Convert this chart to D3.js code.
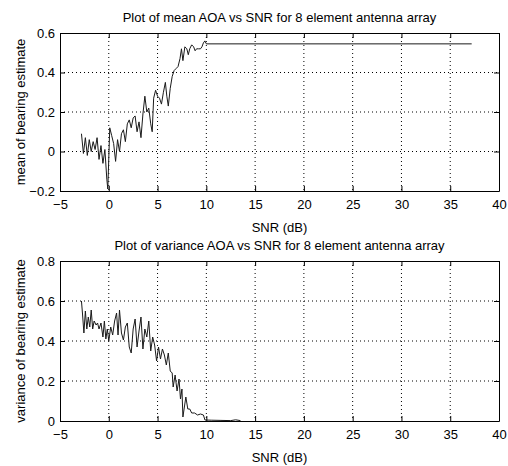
<!DOCTYPE html>
<html>
<head>
<meta charset="UTF-8">
<script src="https://d3js.org/d3.v7.min.js"></script>
<style>
body { margin: 0; background: #fff; }
text { font-family: "Liberation Sans", Arial, sans-serif; fill: #000; }
.grid line { stroke: #000; stroke-width: 1; stroke-dasharray: 1,3; }
.curve { fill: none; stroke: #1a1a1a; stroke-width: 1; }
</style>
</head>
<body>
<svg width="508" height="466"></svg>
<script>
// mean AOA vs SNR (top)
var meanSnr = [-2.8, -2.6, -2.4, -2.2, -2.0, -1.8, -1.6, -1.4, -1.2, -1.0, -0.8, -0.6, -0.4, -0.2, -0.1,
    0.1, 0.3, 0.5, 0.7, 0.9, 1.1, 1.3, 1.5, 1.7, 1.9, 2.1, 2.3, 2.5, 2.7, 2.9, 3.1, 3.3, 3.5, 3.7, 3.9,
    4.1, 4.3, 4.45, 4.6, 4.8, 5.0, 5.2, 5.4, 5.6, 5.8, 5.95, 6.1, 6.3, 6.5, 6.7, 6.9, 7.1, 7.3, 7.45,
    7.6, 7.8, 8.0, 8.15, 8.3, 8.5, 8.7, 8.85, 9.0, 9.2, 9.4, 9.55, 9.7, 9.85, 10.0, 37.2];
var meanVal = [0.09, -0.01, 0.07, -0.02, 0.06, 0.00, 0.05, 0.01, 0.07, -0.04, 0.03, -0.06, 0.01, -0.14, -0.19,
    0.12, 0.08, 0.04, -0.05, 0.06, 0.00, 0.09, 0.11, 0.05, 0.14, 0.16, 0.12, 0.17, 0.18, 0.10, 0.15, 0.07, 0.19, 0.28, 0.20,
    0.22, 0.14, 0.10, 0.27, 0.31, 0.28, 0.27, 0.24, 0.30, 0.35, 0.28, 0.23, 0.32, 0.38, 0.41, 0.42, 0.43, 0.47, 0.52,
    0.46, 0.53, 0.52, 0.49, 0.52, 0.54, 0.53, 0.51, 0.52, 0.52, 0.52, 0.53, 0.55, 0.56, 0.545, 0.545];

// variance AOA vs SNR (bottom)
var varSnr = [-2.8, -2.7, -2.55, -2.4, -2.25, -2.1, -1.95, -1.8, -1.65, -1.5, -1.3, -1.15, -1.0, -0.8, -0.6,
    -0.45, -0.3, -0.15, 0.0, 0.2, 0.4, 0.6, 0.8, 0.95, 1.1, 1.3, 1.5, 1.7, 1.9, 2.1, 2.3, 2.5, 2.7, 2.9,
    3.1, 3.3, 3.5, 3.7, 3.9, 4.1, 4.3, 4.5, 4.7, 4.9, 5.1, 5.3, 5.5, 5.7, 5.9, 6.1, 6.3, 6.5, 6.6, 6.8,
    7.0, 7.2, 7.35, 7.5, 7.6, 7.9, 8.1, 8.3, 8.5, 8.8, 9.1, 9.4, 9.7, 9.86, 10.5, 11.5, 12.5, 13.0, 13.5];
var varVal = [0.60, 0.54, 0.44, 0.55, 0.46, 0.52, 0.47, 0.555, 0.46, 0.50, 0.48, 0.49, 0.46, 0.49, 0.42,
    0.50, 0.41, 0.46, 0.40, 0.47, 0.43, 0.50, 0.54, 0.43, 0.555, 0.44, 0.405, 0.47, 0.49, 0.37, 0.34, 0.46, 0.51, 0.37,
    0.45, 0.52, 0.36, 0.46, 0.42, 0.50, 0.35, 0.42, 0.38, 0.30, 0.37, 0.31, 0.36, 0.33, 0.28, 0.34, 0.25, 0.24, 0.17, 0.23,
    0.15, 0.21, 0.11, 0.16, 0.02, 0.12, 0.06, 0.06, 0.04, 0.04, 0.03, 0.035, 0.03, 0.005, 0.004, 0.003, 0.002, 0.006, 0.002];

var xTicks = [-5, 0, 5, 10, 15, 20, 25, 30, 35, 40];
var meanTicks = [-0.2, 0, 0.2, 0.4, 0.6];
var varTicks = [0, 0.2, 0.4, 0.6, 0.8];

var svg = d3.select("svg");
var left = 60, right = 499;

function yFmt(d) { return d === 0 ? "0" : d3.format(".1f")(d); }

function panel(cfg) {
    var x = d3.scaleLinear().domain([-5, 40]).range([left, right]);
    var y = d3.scaleLinear().domain(cfg.ydomain).range([cfg.bottom, cfg.top]);
    var g = svg.append("g");

    // dotted grid
    var grid = g.append("g").attr("class", "grid");
    grid.selectAll(".gx").data(xTicks.slice(1, -1)).enter().append("line")
        .attr("x1", x).attr("x2", x).attr("y1", cfg.top).attr("y2", cfg.bottom);
    grid.selectAll(".gy").data(cfg.yticks.slice(1, -1)).enter().append("line")
        .attr("y1", y).attr("y2", y).attr("x1", left).attr("x2", right);

    // curve
    var pts = d3.zip(cfg.xs, cfg.ys);
    g.append("path").attr("class", "curve")
        .attr("d", d3.line().x(function(d) { return x(d[0]); }).y(function(d) { return y(d[1]); })(pts));

    // axes, ticks pointing inward on all four sides
    var ax = function(a) {
        a.selectAll(".domain").attr("stroke", "#000");
        a.selectAll(".tick line").attr("stroke", "#000");
        a.selectAll("text").style("font-size", "13px").attr("fill", "#000");
    };
    g.append("g").attr("transform", "translate(0," + cfg.bottom + ")")
        .call(d3.axisBottom(x).tickValues(xTicks).tickSizeInner(-5).tickSizeOuter(0).tickPadding(9).tickFormat(d3.format("d")))
        .call(ax);
    g.append("g").attr("transform", "translate(0," + cfg.top + ")")
        .call(d3.axisTop(x).tickValues(xTicks).tickSizeInner(-5).tickSizeOuter(0).tickFormat(""))
        .call(ax);
    g.append("g").attr("transform", "translate(" + left + ",0)")
        .call(d3.axisLeft(y).tickValues(cfg.yticks).tickSizeInner(-5).tickSizeOuter(0).tickPadding(5).tickFormat(yFmt))
        .call(ax);
    g.append("g").attr("transform", "translate(" + right + ",0)")
        .call(d3.axisRight(y).tickValues(cfg.yticks).tickSizeInner(-5).tickSizeOuter(0).tickFormat(""))
        .call(ax);

    // labels
    g.append("text").attr("x", (left + right) / 2).attr("y", cfg.top - 11)
        .attr("text-anchor", "middle").style("font-size", "13px").text(cfg.title);
    g.append("text").attr("x", (left + right) / 2).attr("y", cfg.bottom + 41)
        .attr("text-anchor", "middle").style("font-size", "13px").text("SNR (dB)");
    g.append("text").attr("transform", "translate(25," + (cfg.top + cfg.bottom) / 2 + ") rotate(-90)")
        .attr("text-anchor", "middle").style("font-size", "13px").text(cfg.ylabel);
}

panel({ top: 33, bottom: 191, ydomain: [-0.2, 0.6], yticks: meanTicks, xs: meanSnr, ys: meanVal,
    title: "Plot of mean AOA vs SNR for 8 element antenna array", ylabel: "mean of bearing estimate" });
panel({ top: 261, bottom: 421, ydomain: [0, 0.8], yticks: varTicks, xs: varSnr, ys: varVal,
    title: "Plot of variance AOA vs SNR for 8 element antenna array", ylabel: "variance of bearing estimate" });
</script>
</body>
</html>
